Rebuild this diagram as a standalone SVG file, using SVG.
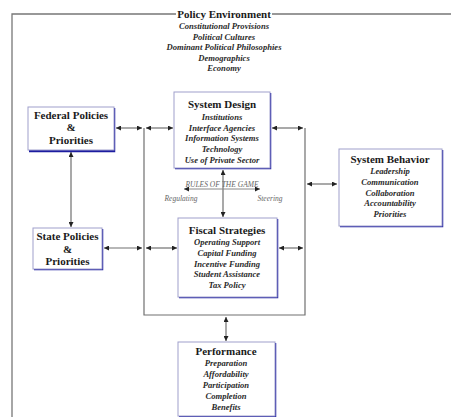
<svg xmlns="http://www.w3.org/2000/svg" width="451" height="417" viewBox="0 0 451 417">
<style>
.t{font-family:"Liberation Serif","Times New Roman",serif;font-weight:bold;font-size:11px;fill:#1a1a1a;text-anchor:middle}
.i{font-family:"Liberation Serif","Times New Roman",serif;font-style:italic;font-weight:bold;font-size:8.6px;fill:#2a2a2a;text-anchor:middle}
.g{font-family:"Liberation Serif","Times New Roman",serif;font-style:italic;font-size:7.5px;fill:#666}
.box{fill:#fff;stroke:#a0a0cc;stroke-width:1}
.sh{fill:none;stroke:#1c1ca0;stroke-width:2.5}
.c{fill:none;stroke:#707070;stroke-width:1.2}
.f{fill:none;stroke:#777;stroke-width:1.3}
</style>
<defs>
<marker id="a" viewBox="0 0 10 10" refX="10" refY="5" markerWidth="6" markerHeight="5" markerUnits="userSpaceOnUse" orient="auto-start-reverse">
<path d="M0,0 L10,5 L0,10 z" fill="#222"/>
</marker>
</defs>
<rect width="451" height="417" fill="#fff"/>
<g id="frame">
<path class="f" d="M12,417 V14 H176 M272,14 H451"/>
</g>
<g id="policy-environment">
<text class="t" x="224" y="18" font-size="11">Policy Environment</text>
<text class="i" x="224" y="29">Constitutional Provisions</text>
<text class="i" x="224" y="39.5">Political Cultures</text>
<text class="i" x="224" y="50">Dominant Political Philosophies</text>
<text class="i" x="224" y="60.5">Demographics</text>
<text class="i" x="224" y="71">Economy</text>
</g>
<g id="connectors">
<path class="c" d="M144,128 V315 H305 V128"/>
<path class="c" d="M116,128 H142" marker-start="url(#a)" marker-end="url(#a)"/>
<path class="c" d="M146,128 H173" marker-start="url(#a)" marker-end="url(#a)"/>
<path class="c" d="M272,128 H303" marker-start="url(#a)" marker-end="url(#a)"/>
<path class="c" d="M307,184 H337" marker-start="url(#a)" marker-end="url(#a)"/>
<path class="c" d="M279,248 H303" marker-start="url(#a)" marker-end="url(#a)"/>
<path class="c" d="M104,248 H142" marker-start="url(#a)" marker-end="url(#a)"/>
<path class="c" d="M146,248 H177" marker-start="url(#a)" marker-end="url(#a)"/>
<path class="c" d="M71,152 V227" marker-start="url(#a)" marker-end="url(#a)"/>
<path class="c" d="M223,170 V217" marker-start="url(#a)" marker-end="url(#a)"/>
<path class="c" d="M226,317 V341" marker-start="url(#a)" marker-end="url(#a)"/>
</g>
<g id="rules-of-the-game">
<path d="M184,189 H260" stroke="#888" stroke-width="1" fill="none" marker-start="url(#a)" marker-end="url(#a)"/>
<text class="g" x="222" y="187" text-anchor="middle">RULES OF THE GAME</text>
<text class="g" x="181" y="201" text-anchor="middle" font-size="8">Regulating</text>
<text class="g" x="270" y="201" text-anchor="middle" font-size="8">Steering</text>
</g>
<g id="federal-policies">
<path class="sh" d="M114,108 V151 H29"/>
<rect class="box" x="28" y="107" width="86" height="43"/>
<text class="t" x="71" y="119">Federal Policies</text>
<text class="t" x="71" y="131">&amp;</text>
<text class="t" x="71" y="144">Priorities</text>
</g>
<g id="system-design">
<path class="sh" d="M270,93 V168 H175"/>
<rect class="box" x="174" y="92" width="96" height="76"/>
<text class="t" x="222" y="108">System Design</text>
<text class="i" x="222" y="119.5">Institutions</text>
<text class="i" x="222" y="130.5">Interface Agencies</text>
<text class="i" x="222" y="141">Information Systems</text>
<text class="i" x="222" y="152">Technology</text>
<text class="i" x="222" y="163">Use of Private Sector</text>
</g>
<g id="system-behavior">
<path class="sh" d="M442,150 V226 H340"/>
<rect class="box" x="339" y="149" width="103" height="77"/>
<text class="t" x="390" y="163">System Behavior</text>
<text class="i" x="390" y="174">Leadership</text>
<text class="i" x="390" y="185">Communication</text>
<text class="i" x="390" y="195.5">Collaboration</text>
<text class="i" x="390" y="206">Accountability</text>
<text class="i" x="390" y="217">Priorities</text>
</g>
<g id="state-policies">
<path class="sh" d="M102,229 V269 H34"/>
<rect class="box" x="33" y="228" width="69" height="41"/>
<text class="t" x="67.5" y="240">State Policies</text>
<text class="t" x="67.5" y="253">&amp;</text>
<text class="t" x="67.5" y="265">Priorities</text>
</g>
<g id="fiscal-strategies">
<path class="sh" d="M277,219 V297 H179"/>
<rect class="box" x="178" y="218" width="99" height="79"/>
<text class="t" x="227" y="234">Fiscal Strategies</text>
<text class="i" x="227" y="245">Operating Support</text>
<text class="i" x="227" y="256">Capital Funding</text>
<text class="i" x="227" y="266.5">Incentive Funding</text>
<text class="i" x="227" y="277">Student Assistance</text>
<text class="i" x="227" y="288">Tax Policy</text>
</g>
<g id="performance">
<path class="sh" d="M275,343 V416 H179"/>
<rect class="box" x="178" y="342" width="97" height="74"/>
<text class="t" x="226" y="355">Performance</text>
<text class="i" x="226" y="366">Preparation</text>
<text class="i" x="226" y="377">Affordability</text>
<text class="i" x="226" y="388">Participation</text>
<text class="i" x="226" y="399">Completion</text>
<text class="i" x="226" y="410">Benefits</text>
</g>
</svg>
